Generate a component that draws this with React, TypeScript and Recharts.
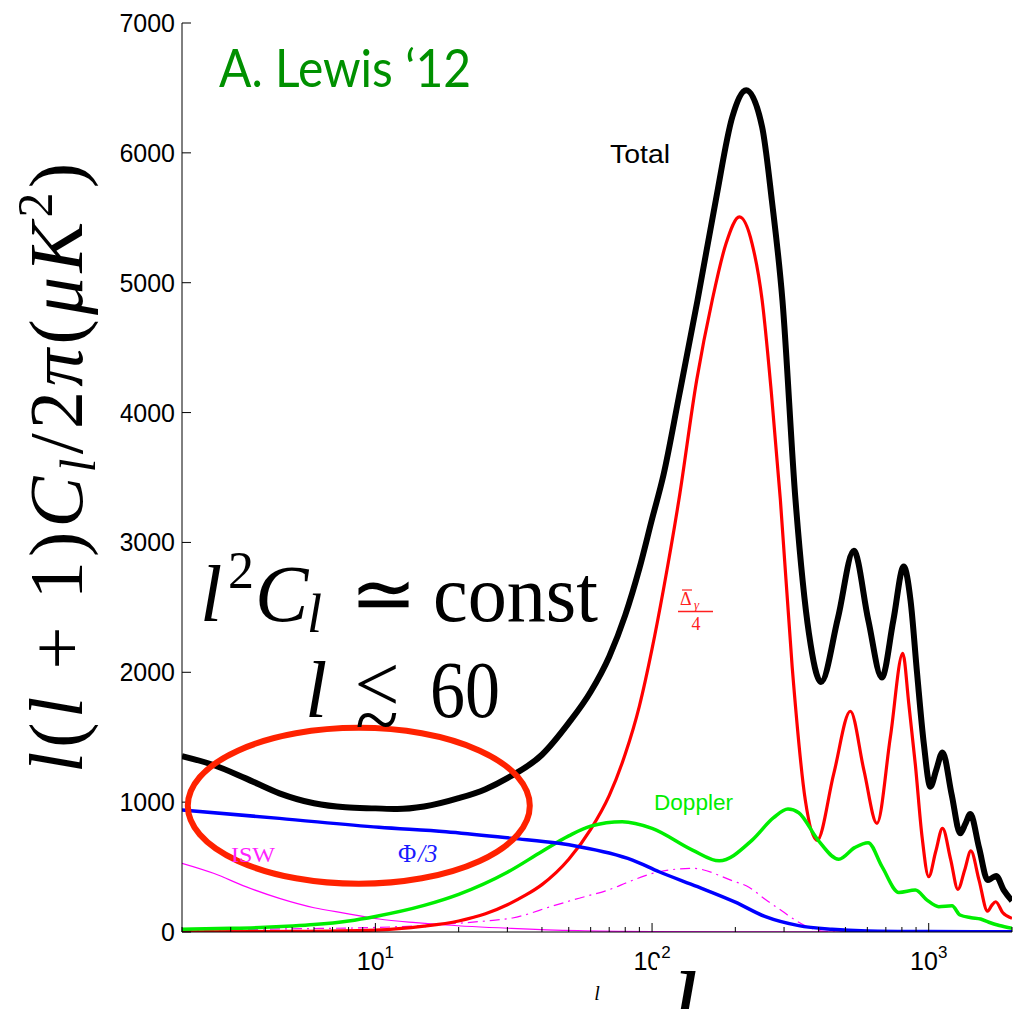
import React from 'react';
import { LineChart, Line, XAxis, YAxis } from 'recharts';

// Multipole axis ticks (log scale, l from 2 to 2000)
const xTicks = [2, 3, 4, 5, 6, 7, 8, 9, 10, 20, 30, 40, 50, 60, 70, 80, 90, 100, 200, 300, 400, 500, 600, 700, 800, 900, 1000, 2000];
const xDecades = [10, 100, 1000];
const xDecadeExp = ['1', '2', '3'];
const yTicks = [0, 1000, 2000, 3000, 4000, 5000, 6000, 7000];

// Total power
const totalEll = [2, 2.6, 3.4, 4.5, 6, 7.8, 10, 12, 15, 20, 25, 30, 40, 50, 60, 70, 80, 90, 100, 110, 125, 146, 170, 195, 219, 250, 271, 296, 330, 369, 408, 470, 536, 605, 677, 745, 812, 860, 907, 960, 1014, 1065, 1122, 1210, 1300, 1355, 1414, 1520, 1634, 1690, 1752, 1870, 2000];
const totalPower = [1355, 1286, 1183, 1068, 991, 960, 952, 947, 966, 1030, 1100, 1185, 1365, 1610, 1850, 2120, 2440, 2800, 3180, 3520, 4120, 4865, 5635, 6276, 6482, 6199, 5635, 4865, 3326, 2300, 1925, 2420, 2935, 2400, 1960, 2400, 2815, 2550, 2000, 1450, 1119, 1250, 1383, 1060, 760, 830, 908, 650, 400, 415, 431, 320, 240];

// Photon density term, Delta_gamma / 4
const deltaEll = [2, 5, 10, 15, 20, 25, 30, 35, 40, 50, 60, 70, 80, 90, 100, 110, 125, 145, 165, 185, 207, 230, 250, 270, 291, 321, 358, 395, 454, 521, 583, 650, 727, 806, 847, 895, 946, 1000, 1060, 1122, 1200, 1275, 1350, 1420, 1520, 1632, 1690, 1747, 1850, 2000];
const deltaPower = [2, 5, 15, 45, 85, 140, 210, 285, 365, 560, 790, 1050, 1370, 1740, 2180, 2640, 3326, 4250, 4865, 5300, 5507, 5300, 4865, 4150, 3326, 2042, 1016, 705, 1222, 1700, 1247, 837, 1503, 2145, 1760, 1286, 734, 426, 620, 798, 560, 329, 480, 624, 400, 160, 205, 233, 150, 105];

// Doppler term
const dopplerEll = [2, 3, 4, 5, 6, 8, 10, 15, 20, 30, 40, 50, 60, 78, 100, 140, 175, 230, 275, 310, 339, 398, 473, 540, 604, 678, 780, 895, 986, 1087, 1214, 1297, 1425, 1540, 1650, 1800, 2000];
const dopplerPower = [21, 28, 36, 46, 57, 85, 120, 205, 290, 460, 620, 740, 815, 849, 798, 631, 548, 708, 880, 947, 918, 708, 560, 650, 688, 503, 305, 323, 246, 195, 202, 131, 110, 100, 75, 50, 28];

// Potential term, Phi / 3
const phiEll = [2, 4.5, 10.3, 18, 31.3, 46, 54.5, 70, 85, 106, 146, 200, 257, 339, 447, 600, 1000, 2000];
const phiPower = [939, 875, 806, 772, 721, 683, 657, 608, 554, 464, 349, 230, 118, 49, 21, 8, 3, 1];

// Late ISW (solid) and early ISW (dash-dot)
const iswEll = [2, 2.6, 3.4, 4.5, 6, 7.8, 10.3, 14, 18, 31, 54, 100, 200, 2000];
const iswPower = [529, 452, 349, 259, 187, 144, 100, 72, 54, 28, 10, 3, 1, 0];
const eiswEll = [2, 5, 10, 18, 25, 31.3, 43.7, 51.6, 74, 80, 106, 140, 195, 224, 257, 296, 330, 370, 420, 600, 2000];
const eiswPower = [12, 25, 35, 60, 85, 108, 200, 246, 345, 375, 464, 490, 395, 345, 250, 160, 90, 35, 5, 0, 0];

const series = (ells: number[], vals: number[]) => ells.map((l, i) => ({ l, power: vals[i] }));

const SANS = "'Liberation Sans', Arial, Helvetica, sans-serif";
const SERIF = "'Liberation Serif', 'Times New Roman', serif";

const W = 1013;
const H = 1009;

const isDecade = (v: number) => xDecades.indexOf(v) >= 0;

const BottomTick = (props: any) => {
  const { x, y, payload } = props;
  const v = payload.value;
  const major = isDecade(v);
  const idx = xDecades.indexOf(v);
  return (
    <g>
      <line x1={x} x2={x} y1={y} y2={y - (major ? 9 : 5)} stroke="#000" strokeWidth={1} />
      {major && (
        <text x={x} y={y + 38} textAnchor="middle" fontFamily={SANS} fontSize={25} fill="#000">
          10
          <tspan dy={-12} fontSize={17}>{xDecadeExp[idx]}</tspan>
        </text>
      )}
    </g>
  );
};

const TopTick = (props: any) => {
  const { x, y, payload } = props;
  const major = isDecade(payload.value);
  return <line x1={x} x2={x} y1={y} y2={y + (major ? 9 : 5)} stroke="#000" strokeWidth={1} />;
};

const LeftTick = (props: any) => {
  const { x, y, payload } = props;
  return (
    <g>
      <line x1={x} x2={x + 9} y1={y} y2={y} stroke="#000" strokeWidth={1} />
      <text x={x - 7} y={y + 9} textAnchor="end" fontFamily={SANS} fontSize={25} fill="#000">
        {payload.value}
      </text>
    </g>
  );
};

const RightTick = (props: any) => {
  const { x, y } = props;
  return <line x1={x} x2={x - 9} y1={y} y2={y} stroke="#000" strokeWidth={1} />;
};

const lineCommon = {
  xAxisId: 'b',
  yAxisId: 'l',
  dataKey: 'power',
  type: 'monotone' as const,
  dot: false,
  activeDot: false,
  isAnimationActive: false,
};

export default function App() {
  return (
    <div style={{ position: 'absolute', left: 0, top: 0, width: W, height: H, background: '#fff', overflow: 'hidden' }}>
      <LineChart width={W} height={H} margin={{ top: 23, right: 1, bottom: 0, left: 0 }}>
        <XAxis
          xAxisId="b"
          type="number"
          dataKey="l"
          scale="log"
          domain={[2, 2000]}
          allowDataOverflow
          ticks={xTicks}
          interval={0}
          tickLine={false}
          tickSize={0}
          tickMargin={0}
          tick={BottomTick}
          height={77}
          axisLine={{ stroke: '#000', strokeWidth: 1 }}
        />
        <XAxis
          xAxisId="t"
          orientation="top"
          type="number"
          dataKey="l"
          scale="log"
          domain={[2, 2000]}
          allowDataOverflow
          ticks={xTicks}
          interval={0}
          tickLine={false}
          tickSize={0}
          tickMargin={0}
          tick={TopTick}
          height={0}
          axisLine={{ stroke: '#000', strokeWidth: 1 }}
        />
        <YAxis
          yAxisId="l"
          type="number"
          domain={[0, 7000]}
          allowDataOverflow
          ticks={yTicks}
          interval={0}
          tickLine={false}
          tickSize={0}
          tickMargin={0}
          tick={LeftTick}
          width={182}
          axisLine={{ stroke: '#000', strokeWidth: 1 }}
        />
        <YAxis
          yAxisId="r"
          orientation="right"
          type="number"
          domain={[0, 7000]}
          allowDataOverflow
          ticks={yTicks}
          interval={0}
          tickLine={false}
          tickSize={0}
          tickMargin={0}
          tick={RightTick}
          width={0}
          axisLine={{ stroke: '#000', strokeWidth: 1 }}
        />
        <Line {...lineCommon} data={series(iswEll, iswPower)} stroke="#ff00ff" strokeWidth={1.2} />
        <Line {...lineCommon} data={series(eiswEll, eiswPower)} stroke="#ff00ff" strokeWidth={1.2} strokeDasharray="10 5 2 5" />
        <Line {...lineCommon} data={series(deltaEll, deltaPower)} stroke="#ff0000" strokeWidth={3.2} />
        <Line {...lineCommon} data={series(dopplerEll, dopplerPower)} stroke="#00ee00" strokeWidth={3.5} />
        <Line {...lineCommon} data={series(phiEll, phiPower)} stroke="#0000ff" strokeWidth={3.5} />
        <Line {...lineCommon} data={series(totalEll, totalPower)} stroke="#000000" strokeWidth={6} />
      </LineChart>

      <svg width={W} height={H} style={{ position: 'absolute', left: 0, top: 0, pointerEvents: 'none' }}>
        {/* backing boxes of the axis titles */}
        <rect x={0} y={140} width={120.5} height={645} fill="#fff" />
        <rect x={657} y={958} width={45} height={51} fill="#fff" />

        {/* vertical axis title */}
        <text
          x={82}
          y={468}
          transform="rotate(-90 82 468)"
          textAnchor="middle"
          fontFamily={SERIF}
          fontSize={76}
          fill="#000"
          textLength={610}
          lengthAdjust="spacing"
        >
          <tspan fontStyle="italic">l</tspan>(<tspan fontStyle="italic">l</tspan> + 1)<tspan fontStyle="italic">C</tspan>
          <tspan fontStyle="italic" fontSize={50} baselineShift="-13">l</tspan>/2<tspan fontStyle="italic">π</tspan>(<tspan fontStyle="italic">μK</tspan>
          <tspan fontSize={50} baselineShift="30">2</tspan>)
        </text>

        {/* horizontal axis title */}
        <text x={684} y={1040} textAnchor="middle" fontFamily={SERIF} fontStyle="italic" fontSize={100} fill="#000">l</text>
        <text x={597} y={1000} textAnchor="middle" fontFamily={SERIF} fontStyle="italic" fontSize={20} fill="#000">l</text>

        {/* credit */}
        <text x={219} y={87} fontFamily="Lato, 'Open Sans', sans-serif" fontSize={52} fill="#009000" textLength={252} lengthAdjust="spacingAndGlyphs">
          A. Lewis ‘12
        </text>

        {/* large-scale plateau annotation */}
        <ellipse cx={358.8} cy={805.8} rx={171} ry={78} fill="none" stroke="#ff2200" strokeWidth={6} />
        <g fontFamily={SERIF} fill="#000">
          <text x={200} y={621} fontSize={80} fontStyle="italic">l</text>
          <text x={228} y={588} fontSize={52}>2</text>
          <text x={255} y={621} fontSize={80} fontStyle="italic">C</text>
          <text x={307} y={632} fontSize={54} fontStyle="italic">l</text>
          <text x={383} y={621} fontSize={80} textAnchor="middle">≃</text>
          <text x={433} y={621} fontSize={80} textLength={165} lengthAdjust="spacingAndGlyphs">const</text>
          <text x={305} y={717} fontSize={80} fontStyle="italic">l</text>
          <text x={377} y={711} fontSize={80} textAnchor="middle">&lt;</text>
          <text x={377} y={747} fontSize={80} textAnchor="middle">~</text>
          <text x={430} y={717} fontSize={80} textLength={70} lengthAdjust="spacingAndGlyphs">60</text>
        </g>

        {/* curve labels */}
        <text x={610} y={163} fontFamily={SANS} fontSize={25} fill="#000" textLength={60} lengthAdjust="spacingAndGlyphs">Total</text>
        <text x={654} y={810} fontFamily={SANS} fontSize={22} fill="#00ee00" textLength={79} lengthAdjust="spacingAndGlyphs">Doppler</text>
        <text x={231} y={862} fontFamily={SERIF} fontSize={22} fill="#ff22ff" textLength={44} lengthAdjust="spacingAndGlyphs">ISW</text>
        <g fontFamily={SERIF} fill="#1a1aff" fontSize={25}>
          <text x={398} y={862}>Φ</text>
          <text x={418} y={862} fontStyle="italic">/3</text>
        </g>
        <g fontFamily={SERIF} fill="#ff2020">
          <line x1={682} x2={692} y1={590} y2={590} stroke="#ff2020" strokeWidth={1.2} />
          <text x={680} y={605} fontSize={18}>Δ</text>
          <text x={694} y={609} fontSize={13} fontStyle="italic">γ</text>
          <line x1={678} x2={713} y1={611.5} y2={611.5} stroke="#ff2020" strokeWidth={1.6} />
          <text x={696} y={630} fontSize={18} textAnchor="middle">4</text>
        </g>
      </svg>
    </div>
  );
}
